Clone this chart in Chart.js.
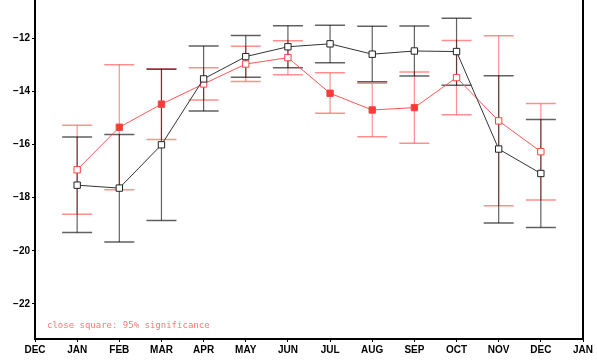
<!DOCTYPE html>
<html>
<head>
<meta charset="utf-8">
<script src="https://cdn.jsdelivr.net/npm/chart.js@4.4.1/dist/chart.umd.min.js"></script>
<style>
  body { margin: 0; background: #fff; }
  #wrap { width: 597px; height: 361px; position: relative; }
</style>
</head>
<body>
<div id="wrap"><canvas id="grafico"></canvas></div>
<script>
// Etiquetas del eje X (DEC .. JAN, los extremos quedan vacíos)
const meses = ['DEC', 'JAN', 'FEB', 'MAR', 'APR', 'MAY', 'JUN', 'JUL', 'AUG', 'SEP', 'OCT', 'NOV', 'DEC', 'JAN'];
const ticksY = [-22, -20, -18, -16, -14, -12];

// Serie negra: media y límites de la barra de error (JAN..DEC)
const negroMedia = [-17.53, -17.64, -16.01, -13.53, -12.69, -12.32, -12.21, -12.60, -12.48, -12.50, -16.17, -17.09];
const negroAlto = [-15.72, -15.62, -13.17, -12.29, -11.90, -11.53, -11.51, -11.55, -11.54, -11.25, -13.41, -15.06];
const negroBajo = [-19.31, -19.67, -18.86, -14.74, -13.47, -13.11, -12.92, -13.64, -13.42, -13.77, -18.95, -19.12];

// Serie roja
const rojoMedia = [-16.95, -15.35, -14.48, -13.72, -12.97, -12.73, -14.07, -14.70, -14.61, -13.48, -15.11, -16.27];
const rojoAlto = [-15.27, -13.00, -13.15, -13.11, -12.30, -12.09, -13.30, -13.69, -13.27, -12.08, -11.91, -14.46];
const rojoBajo = [-18.62, -17.70, -15.81, -14.32, -13.63, -13.37, -14.82, -15.71, -15.95, -14.88, -18.30, -18.09];
// cuadrado cerrado = 95% de significancia
const rojoSignif = [false, true, true, false, false, false, true, true, true, false, false, false];

const yMin = -23.32;
const yMax = -10.56;

// rellenar con null los extremos (DEC y JAN de los bordes)
const pad = arr => [null, ...arr, null];

const fuenteEje = { family: "'Liberation Sans Narrow', 'Liberation Sans', Arial, sans-serif", size: 10, weight: 'bold' };

// Plugin para dibujar las barras de error
const barrasError = {
  id: 'barrasError',
  beforeDatasetsDraw(chart) {
    const ctx = chart.ctx;
    const x = chart.scales.x;
    const y = chart.scales.y;
    const series = [
      { alto: rojoAlto, bajo: rojoBajo, color: 'rgba(255,70,70,0.6)' },
      { alto: negroAlto, bajo: negroBajo, color: 'rgba(0,0,0,0.62)' },
    ];
    ctx.save();
    series.forEach(s => {
      ctx.strokeStyle = s.color;
      s.alto.forEach((hi, i) => {
        const px = x.getPixelForValue(i + 1);
        const pHi = y.getPixelForValue(hi);
        const pLo = y.getPixelForValue(s.bajo[i]);
        ctx.lineWidth = 1.2;
        ctx.beginPath();
        ctx.moveTo(px, pHi);
        ctx.lineTo(px, pLo);
        ctx.stroke();
        ctx.lineWidth = 1.5;
        ctx.beginPath();
        ctx.moveTo(px - 15, pHi);
        ctx.lineTo(px + 15, pHi);
        ctx.moveTo(px - 15, pLo);
        ctx.lineTo(px + 15, pLo);
        ctx.stroke();
      });
    });
    ctx.restore();
  },
  afterDraw(chart) {
    const ctx = chart.ctx;
    const a = chart.chartArea;
    ctx.save();
    // borde derecho
    ctx.strokeStyle = '#000';
    ctx.lineWidth = 2;
    ctx.beginPath();
    ctx.moveTo(a.right, a.top);
    ctx.lineTo(a.right, a.bottom + 1);
    ctx.stroke();
    // nota
    ctx.fillStyle = '#ff7777';
    ctx.font = "9px 'DejaVu Sans Mono', monospace";
    ctx.textBaseline = 'alphabetic';
    ctx.fillText('close square: 95% significance', a.left + 12, a.bottom - 11);
    ctx.restore();
  },
};

const ctxGrafico = document.getElementById('grafico').getContext('2d');
const grafico = new Chart(ctxGrafico, {
  type: 'line',
  data: {
    labels: meses,
    datasets: [
      {
        label: 'negro',
        data: pad(negroMedia),
        borderColor: '#333',
        borderWidth: 1,
        pointStyle: 'rect',
        pointRadius: 4.5,
        pointBorderWidth: 1,
        pointBorderColor: '#222',
        pointBackgroundColor: '#fff',
        tension: 0,
      },
      {
        label: 'rojo',
        data: pad(rojoMedia),
        borderColor: '#ff5555',
        borderWidth: 1,
        pointStyle: 'rect',
        pointRadius: 4.5,
        pointBorderWidth: 1,
        pointBorderColor: '#ff4444',
        pointBackgroundColor: pad(rojoSignif.map(s => (s ? '#ff3838' : '#fff'))),
        tension: 0,
      },
    ],
  },
  options: {
    responsive: true,
    maintainAspectRatio: false,
    animation: false,
    layout: { autoPadding: false, padding: { top: 0, right: 14, left: 0, bottom: 0 } },
    plugins: {
      legend: { display: false },
      tooltip: { enabled: false },
    },
    scales: {
      x: {
        type: 'category',
        offset: false,
        border: { color: '#000', width: 2 },
        grid: { drawOnChartArea: false, drawTicks: true, tickLength: 3, color: '#000' },
        ticks: { color: '#000', font: fuenteEje, maxRotation: 0, autoSkip: false, padding: 2 },
        afterFit(scale) {
          scale.height = 22;
          scale.paddingLeft = 0;
          scale.paddingRight = 0;
        },
      },
      y: {
        min: yMin,
        max: yMax,
        border: { color: '#000', width: 2 },
        grid: { drawOnChartArea: false, drawTicks: true, tickLength: 3, color: '#000' },
        afterBuildTicks(scale) {
          scale.ticks = ticksY.map(v => ({ value: v }));
        },
        ticks: {
          color: '#000',
          font: fuenteEje,
          padding: 2,
          callback: v => '\u2212' + Math.abs(v),
        },
        afterFit(scale) {
          scale.width = 35;
          scale.paddingTop = 0;
          scale.paddingBottom = 0;
        },
      },
    },
  },
  plugins: [barrasError],
});
</script>
</body>
</html>
